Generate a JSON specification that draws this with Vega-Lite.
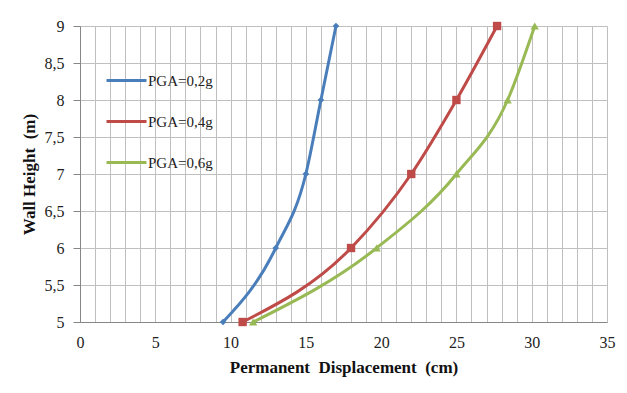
{
  "$schema": "https://vega.github.io/schema/vega-lite/v6.json",
  "autosize": {"type": "none"},
  "width": 527,
  "height": 296,
  "padding": {"left": 80, "top": 26, "right": 20, "bottom": 71},
  "background": "white",
  "config": {
    "font": "Liberation Serif",
    "view": {"stroke": null},
    "axis": {
      "grid": true,
      "gridColor": "#bfbfbf",
      "gridWidth": 1,
      "gridOpacity": 1,
      "domainColor": "#868686",
      "tickColor": "#868686",
      "labelFont": "Liberation Serif",
      "titleFont": "Liberation Serif",
      "labelFontSize": 16,
      "titleFontSize": 17,
      "titleFontWeight": "bold",
      "labelColor": "#222",
      "titleColor": "#111"
    },
    "legend": {"symbolType": "stroke", "labelFontSize": 15, "labelFont": "Liberation Serif"}
  },
  "data": {
    "values": [
      {"series": "PGA=0,2g", "x": 9.5, "y": 5},
      {"series": "PGA=0,2g", "x": 13.0, "y": 6},
      {"series": "PGA=0,2g", "x": 15.0, "y": 7},
      {"series": "PGA=0,2g", "x": 16.0, "y": 8},
      {"series": "PGA=0,2g", "x": 17.0, "y": 9},
      {"series": "PGA=0,4g", "x": 10.8, "y": 5},
      {"series": "PGA=0,4g", "x": 18.0, "y": 6},
      {"series": "PGA=0,4g", "x": 22.0, "y": 7},
      {"series": "PGA=0,4g", "x": 25.0, "y": 8},
      {"series": "PGA=0,4g", "x": 27.7, "y": 9},
      {"series": "PGA=0,6g", "x": 11.5, "y": 5},
      {"series": "PGA=0,6g", "x": 19.7, "y": 6},
      {"series": "PGA=0,6g", "x": 25.0, "y": 7},
      {"series": "PGA=0,6g", "x": 28.4, "y": 8},
      {"series": "PGA=0,6g", "x": 30.2, "y": 9}
    ]
  },
  "encoding": {
    "x": {
      "field": "x", "type": "quantitative",
      "scale": {"domain": [0, 35], "nice": false, "zero": false},
      "axis": {
        "title": "Permanent\u00a0 Displacement\u00a0 (cm)",
        "values": [0,1,2,3,4,5,6,7,8,9,10,11,12,13,14,15,16,17,18,19,20,21,22,23,24,25,26,27,28,29,30,31,32,33,34,35],
        "labelExpr": "datum.value % 5 === 0 ? datum.label : ''",
        "grid": true,
        "ticks": false,
        "labelPadding": 12,
        "titlePadding": 9,
        "labelFlush": false,
        "labelOverlap": false
      }
    },
    "y": {
      "field": "y", "type": "quantitative",
      "scale": {"domain": [5, 9], "nice": false, "zero": false},
      "axis": {
        "title": "Wall Height\u00a0 (m)",
        "values": [5, 5.5, 6, 6.5, 7, 7.5, 8, 8.5, 9],
        "labelExpr": "replace(format(datum.value, '~g'), '.', ',')",
        "grid": true,
        "tickSize": 7,
        "labelPadding": 9,
        "titlePadding": 6,
        "labelFlush": false
      }
    },
    "color": {
      "field": "series", "type": "nominal",
      "scale": {"domain": ["PGA=0,2g", "PGA=0,4g", "PGA=0,6g"], "range": ["#4a7ebb", "#be4b48", "#98b954"]},
      "legend": {
        "title": null,
        "orient": "none",
        "legendX": 25,
        "legendY": 33,
        "symbolType": "stroke",
        "symbolSize": 1600,
        "symbolStrokeWidth": 3,
        "labelFont": "Liberation Serif",
        "labelFontSize": 15,
        "labelColor": "#222",
        "labelOffset": 0,
        "rowPadding": 11,
        "padding": 0
      }
    }
  },
  "layer": [
    {
      "mark": {"type": "line", "interpolate": "monotone", "strokeWidth": 3},
      "encoding": {"order": {"field": "y"}}
    },
    {
      "transform": [{"filter": "datum.series === 'PGA=0,2g'"}],
      "mark": {"type": "point", "filled": true, "opacity": 1, "shape": "diamond", "size": 45}
    },
    {
      "transform": [{"filter": "datum.series === 'PGA=0,4g'"}],
      "mark": {"type": "point", "filled": true, "opacity": 1, "shape": "square", "size": 70}
    },
    {
      "transform": [{"filter": "datum.series === 'PGA=0,6g'"}],
      "mark": {"type": "point", "filled": true, "opacity": 1, "shape": "triangle-up", "size": 70}
    }
  ]
}
